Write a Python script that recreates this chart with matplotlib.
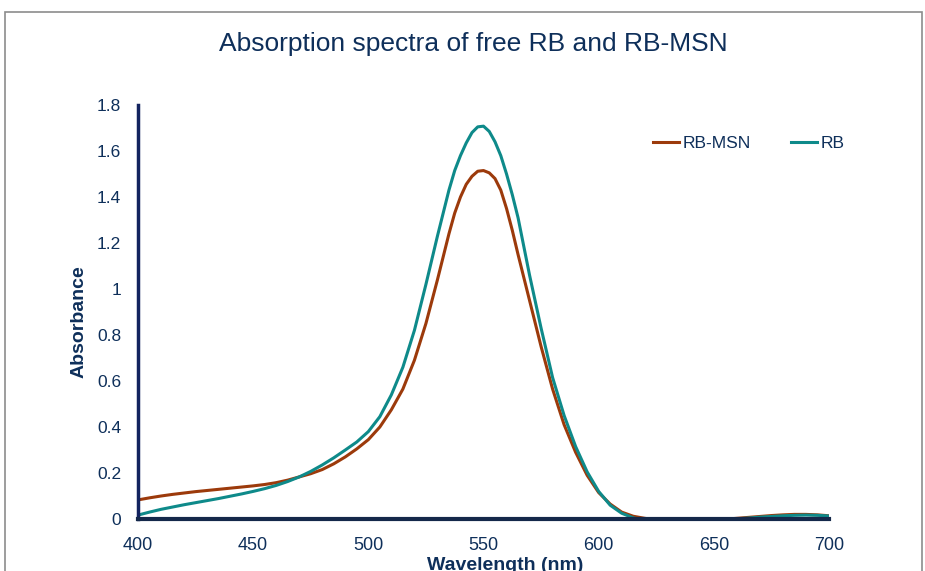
import matplotlib
matplotlib.use("Agg")
import matplotlib.pyplot as plt
from matplotlib.patches import Rectangle

# wavelength grid (nm) - finer around the peak
wavelength = [400, 405, 410, 415, 420, 425, 430, 435, 440, 445, 450, 455, 460,
              465, 470, 475, 480, 485, 490, 495, 500, 505, 510, 515, 520, 525, 530,
              535, 537.5, 540, 542.5, 545, 547.5, 550, 552.5, 555, 557.5, 560, 562.5, 565,
              570, 575, 580, 585, 590, 595, 600, 605, 610, 615, 620, 625, 630, 635,
              640, 645, 650, 655, 660, 665, 670, 675, 680, 685, 690, 695, 700]

# RB-MSN absorbance
rb_msn = [0.083, 0.092, 0.100, 0.107, 0.113, 0.119, 0.124, 0.129, 0.134, 0.139, 0.144, 0.150, 0.158,
          0.169, 0.183, 0.197, 0.215, 0.240, 0.270, 0.305, 0.345, 0.400, 0.475, 0.565, 0.690, 0.850, 1.040,
          1.240, 1.330, 1.400, 1.455, 1.490, 1.512, 1.515, 1.505, 1.480, 1.430, 1.350, 1.255, 1.150,
          0.950, 0.750, 0.565, 0.410, 0.290, 0.190, 0.115, 0.065, 0.030, 0.012, 0.003, -0.004, -0.008, -0.010,
          -0.010, -0.008, -0.005, -0.001, 0.003, 0.007, 0.011, 0.015, 0.018, 0.020, 0.020, 0.018, 0.014]

# free RB absorbance
rb = [0.017, 0.030, 0.042, 0.052, 0.062, 0.071, 0.080, 0.089, 0.099, 0.109, 0.120, 0.132, 0.146,
      0.163, 0.183, 0.207, 0.235, 0.266, 0.300, 0.335, 0.380, 0.445, 0.540, 0.660, 0.820, 1.020, 1.230,
      1.430, 1.515, 1.580, 1.635, 1.680, 1.705, 1.708, 1.685, 1.640, 1.580, 1.500, 1.410, 1.310,
      1.060, 0.830, 0.615, 0.450, 0.315, 0.205, 0.120, 0.060, 0.025, 0.005, -0.005, -0.010, -0.012, -0.012,
      -0.010, -0.008, -0.005, -0.002, 0.001, 0.004, 0.008, 0.011, 0.014, 0.016, 0.017, 0.016, 0.013]

navy = "#0E2F5A"
sans = ["Liberation Sans", "DejaVu Sans"]

fig = plt.figure(figsize=(9.25, 5.71), dpi=100)
ax = fig.add_axes([138 / 925, 52 / 571, 691 / 925, 414 / 571])

ax.plot(wavelength, rb_msn, color="#9C3A0B", lw=2.2, label="RB-MSN")
ax.plot(wavelength, rb, color="#0E8A8A", lw=2.2, label="RB")

ax.set_xlim(400, 700)
ax.set_ylim(0, 1.8)
ax.set_xticks(range(400, 701, 50))
ax.set_yticks([0, 0.2, 0.4, 0.6, 0.8, 1.0, 1.2, 1.4, 1.6, 1.8])
ax.set_yticklabels(["0", "0.2", "0.4", "0.6", "0.8", "1", "1.2", "1.4", "1.6", "1.8"])

for s in ["top", "right"]:
    ax.spines[s].set_visible(False)
ax.spines["left"].set_color("#13235F")
ax.spines["left"].set_linewidth(2.5)
ax.spines["bottom"].set_color("#14284A")
ax.spines["bottom"].set_linewidth(3)
ax.spines["left"].set_zorder(5)
ax.spines["bottom"].set_zorder(5)

ax.tick_params(axis="both", length=0, colors=navy)
ax.tick_params(axis="y", pad=12, labelsize=12.5)
ax.tick_params(axis="x", pad=13, labelsize=13)
for lab in ax.get_xticklabels() + ax.get_yticklabels():
    lab.set_family(sans)

ax.set_xlabel("Wavelength (nm)", fontsize=14, fontweight="bold", color=navy, family=sans)
ax.xaxis.set_label_coords(0.531, -0.092)
ax.set_ylabel("Absorbance", fontsize=14, fontweight="bold", color=navy, family=sans)
ax.yaxis.set_label_coords(-0.073, 0.476)

fig.text(473 / 925, 1 - 44 / 571, "Absorption spectra of free RB and RB-MSN",
         ha="center", va="center", fontsize=19, color=navy, family=sans)

leg = ax.legend(loc="upper right", bbox_to_anchor=(1.045, 0.963), ncol=2,
                frameon=False, handlelength=1.5, handletextpad=0.2,
                columnspacing=2.3, prop={"family": sans, "size": 12.5})
for t in leg.get_texts():
    t.set_color(navy)

# chart frame
fig.patches.append(Rectangle((5 / 925, -0.05), 917 / 925, 1.05 - 12 / 571,
                             transform=fig.transFigure, fill=False,
                             edgecolor="#8C8C8C", lw=1.2))

fig.savefig("out.png", dpi=100)
